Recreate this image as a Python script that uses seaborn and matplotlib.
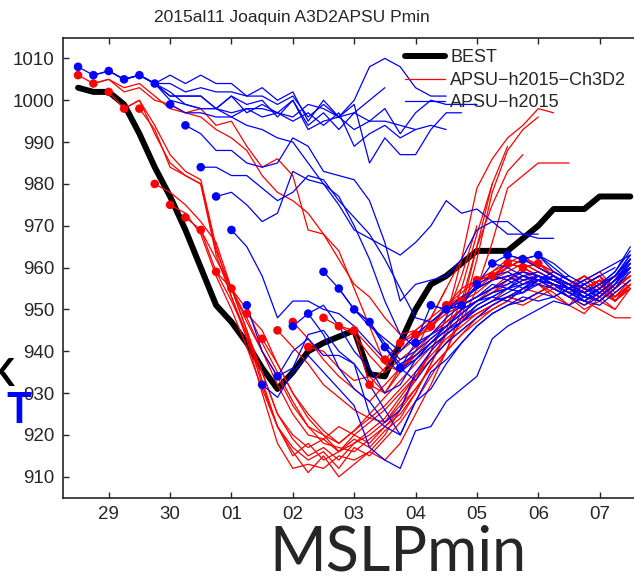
import pandas as pd
import matplotlib
matplotlib.use("Agg")
import matplotlib.pyplot as plt
from matplotlib.lines import Line2D
import seaborn as sns

# 6-hourly cycles, first one 2015-09-28 12Z
first_cycle = "2015-09-28 12:00"
n_cycles = 37

best = [1003, 1002, 1002, 999, 992, 984, 977, 969, 960, 951, 947, 942, 936, 931,
        935, 940, 942, 943.5, 945, 934.5, 934, 942, 950, 956, 958, 961, 964, 964,
        964, 967, 970, 974, 974, 974, 977, 977, 977]

# APSU-h2015 runs, run j starts at cycle j
apsu = [
    [1008, 1006, 1007, 1005, 1006, 1004, 1006, 1004, 1006, 1004, 1004, 1001, 1003, 1000, 1002, 995, 1000, 996, 1000, 1008, 1010, 1008, 1003, 1001, 1001],
    [1006, 1007, 1005, 1006, 1004, 1004, 1002, 1003, 1002, 1002, 1001, 1001, 999, 1001, 996, 999, 996, 999, 985, 991, 987, 987, 993, 997, 997],
    [1007, 1005, 1006, 1004, 1001, 1001, 1001, 998, 1001, 999, 1000, 996, 1000, 994, 997, 993, 997, 995, 998, 992, 997, 1000, 999, 999, 999],
    [1005, 1006, 1004, 1001, 1001, 1001, 998, 1001, 997, 999, 997, 996, 999, 998, 996, 997, 1000, 1003],
    [1006, 1004, 1000, 999, 998, 998, 996, 998, 998, 997, 1000, 993, 995, 996, 993, 995, 995, 994, 993],
    [1004, 1002, 999, 998, 998, 997, 998, 996, 997, 995, 997, 994, 997, 989, 992, 994, 991, 993, 994, 993],
    [999, 997, 997, 996, 996, 994, 993, 991, 990, 985, 980, 975, 969, 967, 965, 963, 966, 970, 976, 973, 974, 971, 971, 968, 968],
    [994, 992, 988, 988, 985, 984, 985, 991, 989, 983, 982, 981, 976, 966, 952, 956, 957, 958, 962, 969, 971, 968, 968, 967, 967],
    [984, 984, 982, 982, 979, 976, 978, 982, 981, 976, 972, 968, 962, 955, 948, 947, 950, 953, 955, 957, 958, 959, 958, 957, 958],
    [977, 978, 975, 971, 973, 983, 981, 980, 977, 970, 962, 952, 944, 941, 944, 948, 951, 953, 955, 956, 958, 957, 956, 955, 957],
    [969, 965, 958, 948, 952, 952, 950, 949, 946, 942, 938, 935, 938, 942, 946, 949, 952, 953, 955, 954, 956, 955, 953, 956, 958],
    [951, 940, 934, 936, 944, 945, 940, 937, 932, 926, 920, 928, 931, 937, 942, 946, 949, 951, 953, 952, 953, 955, 956, 958, 960],
    [932, 929, 935, 939, 935, 931, 927, 917, 914, 912, 921, 922, 928, 931, 934, 943, 946, 948, 950, 952, 951, 953, 955, 958, 962],
    [934, 940, 943, 939, 939, 937, 925, 922, 920, 928, 935, 938, 942, 946, 949, 951, 952, 954, 953, 955, 954, 956, 958, 960],
    [946, 949, 944, 936, 931, 928, 923, 926, 935, 940, 944, 947, 950, 952, 953, 954, 957, 956, 955, 957, 959, 961, 963],
    [949, 951, 946, 940, 936, 930, 932, 938, 942, 945, 947, 951, 953, 952, 955, 958, 957, 956, 954, 956, 959, 964],
    [959, 955, 950, 946, 943, 940, 944, 947, 950, 952, 955, 957, 958, 956, 957, 959, 957, 955, 954, 957, 961],
    [955, 950, 947, 942, 938, 940, 943, 946, 950, 952, 954, 955, 958, 959, 957, 955, 953, 955, 958, 962],
    [950, 947, 941, 937, 939, 942, 945, 948, 951, 953, 955, 956, 957, 955, 953, 952, 954, 957, 960],
    [947, 941, 936, 938, 941, 944, 947, 950, 952, 954, 956, 958, 956, 954, 953, 955, 958, 963],
    [941, 936, 933, 938, 942, 945, 948, 951, 953, 955, 957, 956, 954, 952, 954, 957, 961],
    [936, 942, 944, 946, 949, 952, 954, 955, 957, 958, 956, 953, 951, 953, 956, 960],
    [942, 951, 950, 951, 953, 955, 957, 959, 958, 956, 955, 953, 955, 958, 963],
    [951, 950, 951, 956, 958, 959, 957, 958, 957, 955, 954, 956, 959, 965],
    [950, 951, 953, 956, 955, 954, 957, 956, 954, 952, 955, 958, 962],
    [951, 956, 958, 957, 955, 956, 958, 955, 952, 951, 954, 957],
    [956, 961, 960, 958, 957, 958, 956, 953, 952, 955, 959],
    [961, 963, 962, 960, 958, 956, 954, 952, 955, 960],
    [963, 962, 963, 960, 957, 955, 953, 956, 961],
    [962, 963, 961, 958, 956, 954, 957, 962],
    [963, 959, 957, 955, 953, 956, 962],
]

# APSU-h2015-Ch3D2 runs
apsu_ch3d2 = [
    [1006, 1004, 1005, 1003, 1004, 1001, 998, 997, 998, 994, 995, 989, 984, 986, 982, 969, 968, 962, 956, 953, 948, 944, 945, 948, 955],
    [1004, 1005, 1002, 1003, 1000, 999, 997, 996, 993, 991, 988, 982, 978, 976, 973, 968, 964, 955, 946, 937, 935, 940, 948, 955, 962],
    [1002, 998, 1000, 994, 987, 983, 981, 965, 953, 943, 930, 918, 912, 913, 912, 915, 914, 916, 920, 926, 934, 940, 948, 958, 970],
    [998, 1000, 992, 985, 982, 980, 964, 955, 945, 933, 922, 916, 911, 915, 910, 913, 916, 914, 918, 925, 932, 940, 950, 965, 980],
    [998, 993, 984, 982, 980, 963, 953, 944, 932, 922, 915, 918, 914, 916, 919, 917, 921, 924, 930, 937, 945, 955, 968, 980, 989],
    [980, 978, 975, 971, 966, 955, 945, 935, 925, 920, 917, 919, 916, 920, 918, 922, 925, 930, 937, 944, 952, 965, 975, 983, 987],
    [975, 973, 968, 958, 950, 941, 931, 922, 917, 914, 916, 912, 917, 915, 919, 923, 928, 934, 940, 948, 962, 978, 988, 993, 996],
    [972, 969, 959, 952, 944, 935, 925, 919, 915, 917, 914, 918, 920, 923, 928, 933, 940, 948, 962, 979, 986, 991, 994, 998, 997],
    [969, 962, 955, 948, 940, 932, 925, 920, 919, 922, 920, 923, 926, 930, 934, 938, 942, 947, 955, 966, 979, 982, 985, 985, 985],
    [959, 955, 947, 940, 934, 927, 922, 920, 918, 921, 924, 923, 927, 931, 936, 940, 944, 947, 950, 952, 955, 954, 956, 955, 957],
    [955, 950, 942, 935, 928, 922, 918, 917, 916, 919, 922, 926, 931, 936, 940, 944, 948, 951, 953, 952, 954, 956, 955, 953, 955],
    [949, 945, 937, 930, 924, 920, 916, 918, 921, 924, 929, 934, 938, 942, 945, 948, 950, 952, 951, 953, 955, 956, 954, 952, 950],
    [943, 937, 930, 925, 921, 918, 921, 925, 929, 933, 937, 941, 944, 947, 949, 951, 953, 952, 954, 956, 954, 952, 950, 948, 948],
    [945, 941, 937, 932, 929, 926, 924, 927, 931, 935, 939, 943, 946, 949, 951, 953, 955, 957, 955, 953, 951, 954, 957, 959],
    [947, 943, 938, 934, 931, 928, 932, 936, 939, 943, 946, 949, 952, 954, 956, 958, 957, 955, 953, 950, 952, 956, 958],
    [941, 940, 936, 933, 934, 930, 935, 939, 942, 945, 948, 950, 952, 955, 957, 956, 954, 951, 949, 953, 957, 960],
    [948, 946, 944, 939, 935, 938, 941, 944, 947, 950, 952, 955, 957, 958, 956, 953, 951, 955, 953, 950, 955],
    [946, 945, 941, 937, 940, 943, 946, 949, 951, 953, 955, 958, 959, 957, 955, 953, 956, 958, 954, 957],
    [945, 932, 930, 936, 940, 944, 947, 950, 952, 954, 957, 960, 958, 956, 954, 956, 958, 952, 955],
    [932, 936, 940, 944, 947, 950, 952, 954, 957, 959, 961, 959, 957, 955, 957, 959, 955, 958],
    [938, 942, 945, 948, 951, 953, 955, 957, 960, 962, 960, 958, 956, 958, 955, 952, 956],
    [942, 944, 946, 950, 953, 955, 958, 960, 962, 961, 959, 957, 955, 957, 953, 955],
    [944, 945, 951, 954, 957, 959, 961, 963, 960, 958, 956, 958, 955, 952, 955],
    [946, 951, 955, 957, 959, 962, 961, 959, 957, 955, 958, 956, 953, 957],
    [951, 952, 957, 958, 960, 962, 960, 958, 956, 954, 957, 953, 956],
    [952, 957, 958, 961, 960, 958, 956, 954, 956, 958, 955, 958],
    [957, 958, 961, 960, 958, 957, 955, 957, 954, 952, 956],
    [958, 961, 960, 961, 958, 956, 954, 956, 958, 955],
    [961, 960, 961, 958, 956, 955, 957, 953, 956],
    [960, 961, 959, 957, 955, 957, 952, 956],
    [961, 958, 956, 954, 957, 955, 958],
]

models = ["APSU-h2015-Ch3D2", "APSU-h2015"]
colors = {"APSU-h2015-Ch3D2": "red", "APSU-h2015": "blue"}
legend_labels = ["BEST", "APSU\u2212h2015\u2212Ch3D2", "APSU\u2212h2015"]
day_labels = ["29", "30", "01", "02", "03", "04", "05", "06", "07"]

cycles = pd.date_range(first_cycle, periods=n_cycles, freq="6h")

rows = []
for model, runs in zip(models, [apsu_ch3d2, apsu]):
    for j, vals in enumerate(runs):
        for i, v in enumerate(vals):
            rows.append({"model": model, "run": j, "lead": i,
                         "valid": cycles[j + i], "pmin": v})
df = pd.DataFrame(rows)
best_df = pd.DataFrame({"valid": cycles, "pmin": best})

sns.set_style("ticks")
plt.rcParams["font.family"] = ["Liberation Sans", "DejaVu Sans"]

fig = plt.figure(figsize=(6.34, 5.81), dpi=100)
ax = fig.add_axes([62.7 / 634, 83.3 / 581, 598.3 / 634, 460.2 / 581])

sns.lineplot(data=best_df, x="valid", y="pmin", color="black", lw=4.3, ax=ax)
sns.lineplot(data=df, x="valid", y="pmin", hue="model", hue_order=models,
             units="run", estimator=None, sort=False, palette=colors,
             lw=0.9, legend=False, ax=ax)
sns.scatterplot(data=df[df["lead"] == 0], x="valid", y="pmin", hue="model",
                hue_order=models, palette=colors, s=38, edgecolor="none",
                legend=False, ax=ax, zorder=3)

ax.set_xlim(pd.Timestamp("2015-09-28 06:00"), pd.Timestamp("2015-10-08 00:00"))
ax.set_ylim(905, 1015)
ax.set_yticks(range(910, 1011, 10))
ticks = pd.date_range("2015-09-29", periods=len(day_labels), freq="D")
ax.set_xticks(ticks)
ax.set_xticklabels(day_labels)
ax.set_xlabel("")
ax.set_ylabel("")
ax.tick_params(direction="in", top=True, right=False, length=4, width=1,
               labelsize=13.5, pad=6)
for s in ["left", "bottom", "top"]:
    ax.spines[s].set_linewidth(1.2)
ax.spines["right"].set_visible(False)

handles = [Line2D([], [], color="black", lw=4.3),
           Line2D([], [], color="red", lw=0.9),
           Line2D([], [], color="blue", lw=0.9)]
ax.legend(handles, legend_labels, loc="upper left", bbox_to_anchor=(0.572, 0.974),
          frameon=False, fontsize=13, handlelength=2.2, handletextpad=0.3,
          labelspacing=0.3, borderpad=0, borderaxespad=0)

fig.text(292 / 634, 1 - 17.5 / 581, "2015al11 Joaquin A3D2APSU Pmin",
         ha="center", va="center", fontsize=12.5)
fig.text(398 / 634, 1 - 553 / 581, "MSLPmin", ha="center", va="center",
         fontsize=44, family="Lato")
fig.text(15 / 634, 1 - 375 / 581, "K", ha="right", va="center",
         fontsize=27, family="Lato", weight="bold", color="black")
fig.text(31 / 634, 1 - 411 / 581, "T", ha="right", va="center",
         fontsize=30, family="Lato", weight="bold", color="blue")

fig.savefig("out.png", dpi=100)
plt.close(fig)
